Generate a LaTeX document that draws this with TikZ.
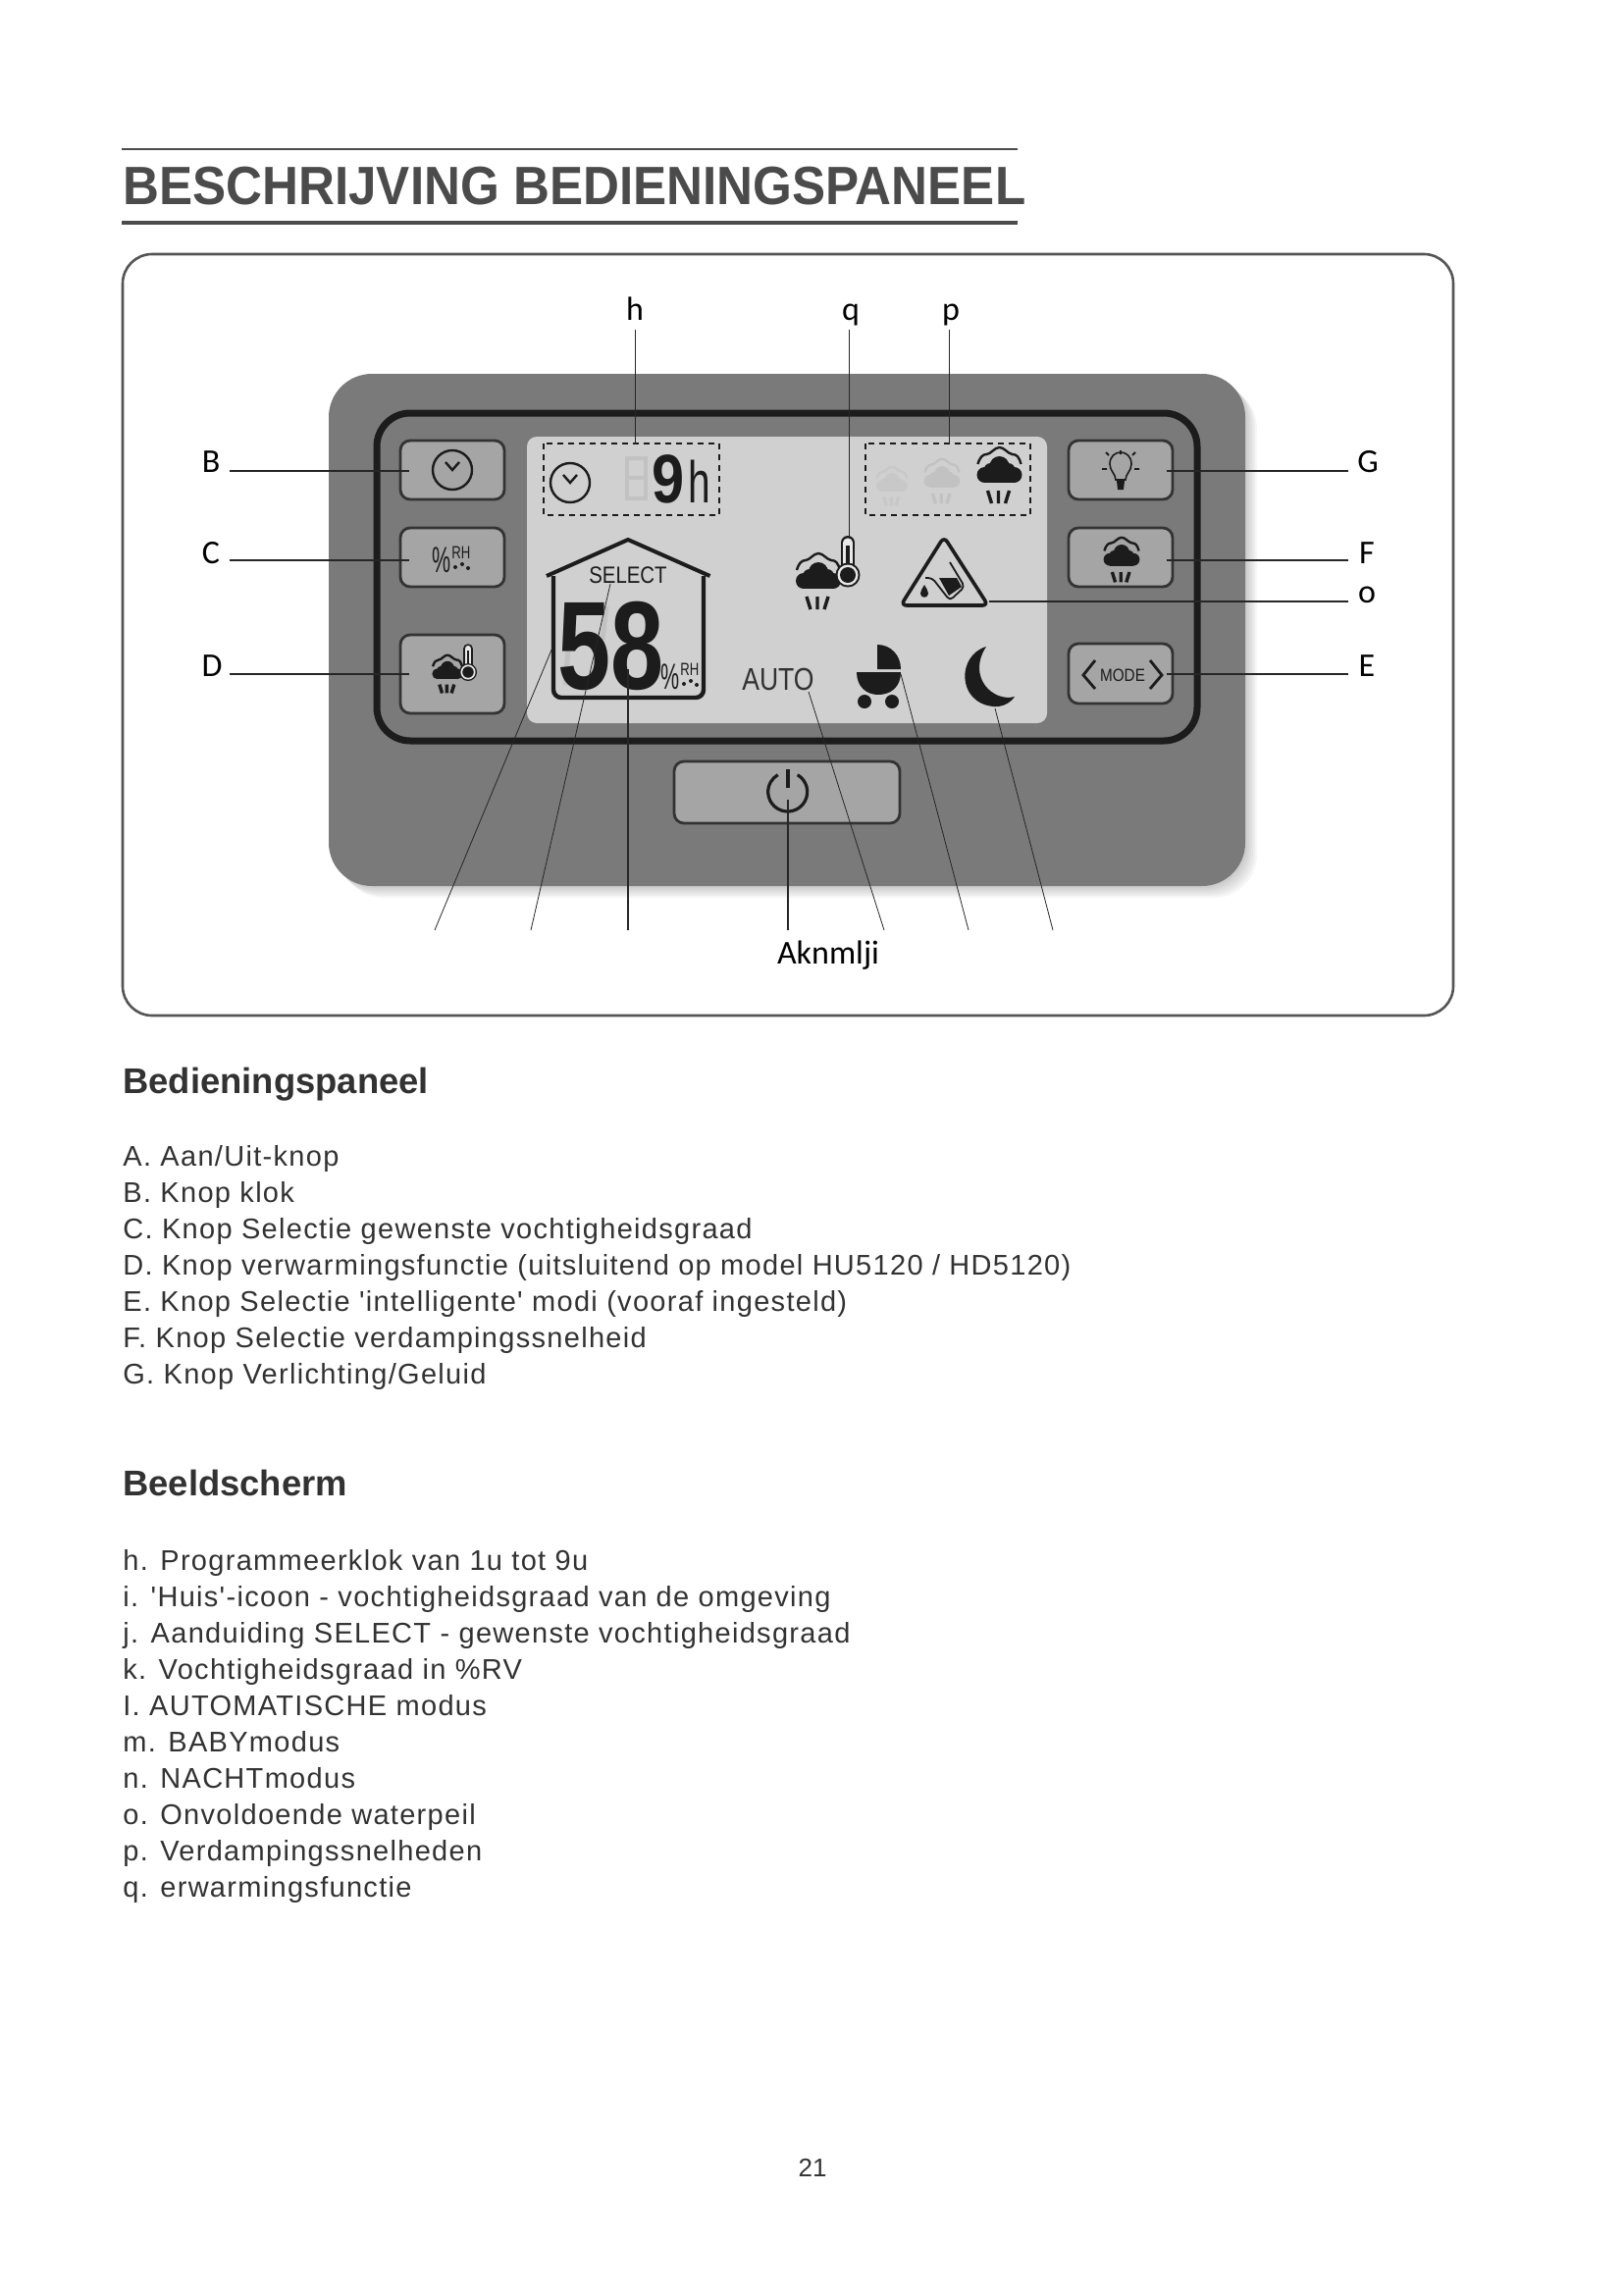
\documentclass[tikz,border=0pt]{standalone}
\usepackage{fontspec}
\setmainfont{Liberation Sans}
\newfontfamily\itemfont[LetterSpace=4.5]{Liberation Sans}
\newfontfamily\labelfont{Carlito}
\usepackage{xcolor}
\definecolor{txtcol}{RGB}{50,50,50}
\definecolor{titcol}{RGB}{75,75,75}
\definecolor{frmcol}{RGB}{85,85,85}
\definecolor{pancol}{RGB}{122,122,122}
\definecolor{scrcol}{RGB}{208,208,208}
\definecolor{btncol}{RGB}{165,165,165}
\definecolor{icocol}{RGB}{28,28,28}
\definecolor{ghostcol}{RGB}{194,194,194}
\tikzset{
  item/.style={anchor=base west,inner sep=0pt,text=txtcol,font=\itemfont\fontsize{14.5}{15}\selectfont},
  head/.style={anchor=base west,inner sep=0pt,text=txtcol,font=\fontsize{18.2}{19}\selectfont\bfseries},
  lbl/.style={inner sep=0pt,text=black,font=\labelfont\fontsize{17}{18}\selectfont},
  leader/.style={draw=black!85,line width=0.7pt},
  slant/.style={draw=black!85,line width=0.4pt},
  btn/.style={draw=icocol!90,fill=btncol,line width=1.4pt,rounded corners=5pt,minimum width=53pt},
  boxdash/.style={draw=icocol,line width=0.8pt,dash pattern=on 3pt off 2.5pt},
  lcd/.style={inner sep=0pt,text=icocol,transform shape},
  cloudicon/.pic={
    \draw[#1,line width=1.2pt,line join=round] (-22,18) .. controls (-20,11) and (-17,8) .. (-13,8)
      .. controls (-9,8) and (-5,1) .. (0,1) .. controls (5,1) and (8,7) .. (13,8)
      .. controls (18,8) and (20,11) .. (22,18);
    \fill[#1] (-15,29) circle (8) (15,29) circle (8) (0,20) circle (10)
      (-9,24) circle (7) (9,24) circle (7);
    \fill[#1] (-15,23) rectangle (15,37);
    \draw[#1,line width=1.7pt] (-12,45) -- (-8,58) (-1,45) -- (-1,58) (10,45) -- (6,58);
  },
  thermoicon/.pic={
    \begin{scope}[scale=#1]
      \draw[icocol,line width={#1*7pt},line cap=round] (0,-10) -- (0,-33);
      \draw[scrcol!50!white,line width={#1*4.6pt},line cap=round] (0,-10) -- (0,-33);
      \draw[icocol,line width={#1*2pt}] (0,-8) -- (0,-30);
      \fill[icocol] (0,0) circle (12.5);
      \fill[scrcol!50!white] (0,0) circle (10.5);
      \fill[icocol] (0,0) circle (8);
    \end{scope}
  },
  clockicon/.pic={
    \draw[icocol,line width=1.2pt] (0,0) circle (20);
    \draw[icocol,line width=1.2pt] (-7,-8) -- (0,0) -- (7,-8);
  },
  rhicon/.pic={
    \node[lcd,anchor=base west,xscale=0.58,font=\fontsize{18.5}{19}\selectfont] (rhpct) at (0,0) {\%};
    \node[lcd,anchor=base west,xscale=0.73,font=\fontsize{9}{10}\selectfont] (rhtxt) at (20,-14) {RH};
    \fill[icocol] (24,-5) circle (2) (31,-8) circle (2) (37,-4) circle (2);
  }
}
\begin{document}
\begin{tikzpicture}[x=0.5pt,y=-0.5pt]
  \useasboundingbox (0,0) rectangle (1654,2339);
  % title
  \coordinate (rulea) at (124,152);
  \coordinate (ruleb) at (1037,152);
  \coordinate (rulec) at (124,227);
  \coordinate (ruled) at (1037,227);
  \draw[titcol,line width=1.2pt] (rulea) -- (ruleb);
  \draw[titcol,line width=2pt] (rulec) -- (ruled);
  \node[anchor=base west,inner sep=0pt,text=titcol,xscale=0.93,transform shape,
        font=\fontsize{27.5}{28}\selectfont\bfseries] (title) at (125,208) {BESCHRIJVING BEDIENINGSPANEEL};
  % panel
  \node[draw=frmcol,line width=1.3pt,rounded corners=15pt,minimum width=678pt,minimum height=388pt] (frame) at (803,647) {};
  \foreach \s in {12,10,8,6,4,2}
    \fill[black,opacity=0.035,rounded corners=22pt] (335+\s,381+\s) rectangle (1269+\s,903+\s);
  \node[fill=pancol,rounded corners=22pt,minimum width=467pt,minimum height=261pt] (panel) at (802,642) {};
  \node[draw=icocol,line width=3.5pt,rounded corners=17pt,minimum width=418pt,minimum height=167pt] (bezel) at (802,588) {};
  \node[fill=scrcol,rounded corners=5pt,minimum width=265pt,minimum height=146pt] (screen) at (802,591) {};
  % buttons
  \node[btn,minimum height=30pt] (btnclock) at (461,479) {};
  \node[btn,minimum height=30pt] (btnrh) at (461,568) {};
  \node[btn,minimum height=40pt] (btnheat) at (461,687) {};
  \node[btn,minimum height=30pt] (btnlight) at (1142,479) {};
  \node[btn,minimum height=30pt] (btnspeed) at (1142,568) {};
  \node[btn,minimum height=30.5pt] (btnmode) at (1142,686.5) {};
  \node[btn,minimum width=115pt,minimum height=31.5pt] (btnpower) at (802,807.5) {};
  \pic at (461,479) {clockicon};
  \pic at (440,583) {rhicon};
  \pic[scale=0.68] at (456,667) {cloudicon=icocol};
  \pic at (477,685) {thermoicon=0.72};
  \pic[scale=0.8] at (1143,547) {cloudicon=icocol};
  % bulb
  \draw[icocol,line width=0.8pt] (1137,489) .. controls (1137,483) and (1131,480) .. (1131,473)
    .. controls (1131,457) and (1153,457) .. (1153,473) .. controls (1153,480) and (1147,483) .. (1147,489) -- cycle;
  \fill[icocol] (1138,490) -- (1146,490) -- (1145,499) -- (1139,499) -- cycle;
  \draw[icocol,line width=0.9pt] (1142,463) -- (1142,459) (1130,464) -- (1127,461) (1154,464) -- (1157,461)
    (1123,478) -- (1128,478) (1156,478) -- (1161,478);
  % mode
  \draw[icocol,line width=1.4pt] (1116,673) -- (1104,688) -- (1116,702) (1172,673) -- (1184,688) -- (1172,702);
  \node[lcd,anchor=base,xscale=0.85,font=\fontsize{9}{10}\selectfont] (modetxt) at (1144,694.5) {MODE};
  % power
  \draw[icocol,line width=1.6pt] (812.7,789.7) arc (-60:240:20);
  \draw[icocol,line width=1.6pt] (803,784) -- (803,803);
  % clock on the display
  \draw[boxdash] (554,452) rectangle (733,525);
  \pic at (581,492) {clockicon};
  \draw[ghostcol,line width=2.2pt] (639,467) rectangle (658,508) (639,487) -- (658,487);
  \node[lcd,anchor=base,xscale=0.85,font=\fontsize{35}{36}\selectfont\bfseries] (hourval) at (681.5,512) {9};
  \node[lcd,anchor=base,xscale=0.68,font=\fontsize{30}{31}\selectfont] (hourunit) at (713,512) {h};
  % speeds
  \draw[boxdash] (882,452) rectangle (1050,525);
  \pic[scale=0.7] at (909,475) {cloudicon=ghostcol!90!white};
  \pic[scale=0.8] at (960,467) {cloudicon=ghostcol};
  \pic at (1018.5,455) {cloudicon=icocol};
  % house
  \draw[icocol,line width=2pt,line join=round] (557,587) -- (640,550) -- (723.5,587);
  \draw[icocol,line width=2.2pt,rounded corners=4pt] (564,587) -- (564,711) -- (717,711) -- (717,587);
  \node[lcd,anchor=base,xscale=0.85,font=\fontsize{12}{13}\selectfont] (select) at (640,594) {SELECT};
  \draw[ghostcol,line width=2.5pt] (579,662) -- (576,698) (618,618) -- (614,652);
  \node[lcd,anchor=base,xscale=0.76,font=\fontsize{64}{64}\selectfont\bfseries] (humval) at (623,702) {58};
  \pic at (673,702) {rhicon};
  % heating icon
  \pic at (834,563) {cloudicon=icocol};
  \pic at (864,586) {thermoicon=1};
  % water warning
  \draw[icocol,line width=1.8pt,rounded corners=3pt] (962,547) -- (918,617) -- (1007,617) -- cycle;
  \draw[icocol,line width=0.9pt,rounded corners=2pt] (968,573) -- (983,598) -- (968,612) -- (957,598) -- (950,589) -- (943,589);
  \fill[icocol] (957,589) -- (975,589) -- (980,598) -- (967,607) -- cycle;
  \fill[icocol] (942,596) .. controls (945,601) and (946,603) .. (946,605) .. controls (946,610) and (938,610) .. (938,605) .. controls (938,603) and (939,601) .. (942,596) -- cycle;
  % modes
  \node[lcd,anchor=base west,xscale=0.83,text=txtcol,font=\fontsize{16}{17}\selectfont] (auto) at (756,703) {AUTO};
  \fill[icocol] (894,657) .. controls (908,657) and (918,668) .. (918,682) -- (894,682) -- cycle;
  \fill[icocol] (873,685) -- (918,685) .. controls (918,700) and (908,708) .. (895,708) .. controls (883,708) and (873,700) .. (873,685) -- cycle;
  \fill[icocol] (881,715) circle (7) (909,715) circle (7);
  \fill[icocol] (1005,659) .. controls (975,668) and (975,716) .. (1012,720) .. controls (1022,721) and (1030,716) .. (1034,710)
    .. controls (1012,716) and (985,690) .. (1005,659) -- cycle;
  % labels
  \node[lbl] (lblh) at (647,315) {h};
  \node[lbl] (lblq) at (867,321) {q};
  \node[lbl] (lblp) at (969,321) {p};
  \node[lbl] (lblB) at (215,471) {B};
  \node[lbl] (lblC) at (215,564) {C};
  \node[lbl] (lblD) at (216,679) {D};
  \node[lbl] (lblG) at (1394,471) {G};
  \node[lbl] (lblF) at (1393,564) {F};
  \node[lbl] (lblo) at (1393,606) {o};
  \node[lbl] (lblE) at (1393,679) {E};
  \node[lbl] (lblA) at (844,974) {Aknmlji};
  % leaders
  \coordinate (hfoot) at (647.5,336); \coordinate (htip) at (647.5,452);
  \coordinate (qfoot) at (865.5,336); \coordinate (qtip) at (865.5,547);
  \coordinate (pfoot) at (967.5,336); \coordinate (ptip) at (967.5,452);
  \coordinate (Bfoot) at (234,480); \coordinate (Btip) at (417,480);
  \coordinate (Cfoot) at (234,571); \coordinate (Ctip) at (417,571);
  \coordinate (Dfoot) at (234,687); \coordinate (Dtip) at (417,687);
  \coordinate (Gfoot) at (1374,480); \coordinate (Gtip) at (1189,480);
  \coordinate (Ffoot) at (1374,571); \coordinate (Ftip) at (1189,571);
  \coordinate (ofoot) at (1374,613); \coordinate (otip) at (1008,613);
  \coordinate (Efoot) at (1374,687); \coordinate (Etip) at (1189,687);
  \coordinate (ifoot) at (443,948); \coordinate (itip) at (563,660);
  \coordinate (jfoot) at (541,948); \coordinate (jtip) at (622,595);
  \coordinate (kfoot) at (640,948); \coordinate (ktip) at (640,682);
  \coordinate (Afoot) at (803,948); \coordinate (Atip) at (803,815);
  \coordinate (lfoot) at (901,948); \coordinate (ltip) at (824,705);
  \coordinate (mfoot) at (987,948); \coordinate (mtip) at (918,687);
  \coordinate (nfoot) at (1073,948); \coordinate (ntip) at (1014,722);
  \draw[leader] (hfoot) -- (htip);
  \draw[leader] (qfoot) -- (qtip);
  \draw[leader] (pfoot) -- (ptip);
  \draw[leader] (Bfoot) -- (Btip);
  \draw[leader] (Cfoot) -- (Ctip);
  \draw[leader] (Dfoot) -- (Dtip);
  \draw[leader] (Gfoot) -- (Gtip);
  \draw[leader] (Ffoot) -- (Ftip);
  \draw[leader] (ofoot) -- (otip);
  \draw[leader] (Efoot) -- (Etip);
  \draw[leader] (kfoot) -- (ktip);
  \draw[leader] (Afoot) -- (Atip);
  \draw[slant] (ifoot) -- (itip);
  \draw[slant] (jfoot) -- (jtip);
  \draw[slant] (lfoot) -- (ltip);
  \draw[slant] (mfoot) -- (mtip);
  \draw[slant] (nfoot) -- (ntip);
  % text
  \node[head] (headpanel) at (125,1114) {Bedieningspaneel};
  \node[item] (itemA) at (125,1188) {A. Aan/Uit-knop};
  \node[item] (itemB) at (125,1225) {B. Knop klok};
  \node[item] (itemC) at (125,1262) {C. Knop Selectie gewenste vochtigheidsgraad};
  \node[item] (itemD) at (125,1299) {D. Knop verwarmingsfunctie (uitsluitend op model HU5120 / HD5120)};
  \node[item] (itemE) at (125,1336) {E. Knop Selectie 'intelligente' modi (vooraf ingesteld)};
  \node[item] (itemF) at (125,1373) {F. Knop Selectie verdampingssnelheid};
  \node[item] (itemG) at (125,1410) {G. Knop Verlichting/Geluid};
  \node[head] (headscreen) at (125,1524) {Beeldscherm};
  \node[item] (itemh) at (125,1600) {h. Programmeerklok van 1u tot 9u};
  \node[item] (itemi) at (125,1637) {i. 'Huis'-icoon - vochtigheidsgraad van de omgeving};
  \node[item] (itemj) at (125,1674) {j. Aanduiding SELECT - gewenste vochtigheidsgraad};
  \node[item] (itemk) at (125,1711) {k. Vochtigheidsgraad in \%RV};
  \node[item] (iteml) at (125,1748) {I. AUTOMATISCHE modus};
  \node[item] (itemm) at (125,1785) {m. BABYmodus};
  \node[item] (itemn) at (125,1822) {n. NACHTmodus};
  \node[item] (itemo) at (125,1859) {o. Onvoldoende waterpeil};
  \node[item] (itemp) at (125,1896) {p. Verdampingssnelheden};
  \node[item] (itemq) at (125,1933) {q. erwarmingsfunctie};
  \node[item,anchor=base,font=\fontsize{13}{14}\selectfont] (pageno) at (828,2218) {21};
\end{tikzpicture}
\end{document}
